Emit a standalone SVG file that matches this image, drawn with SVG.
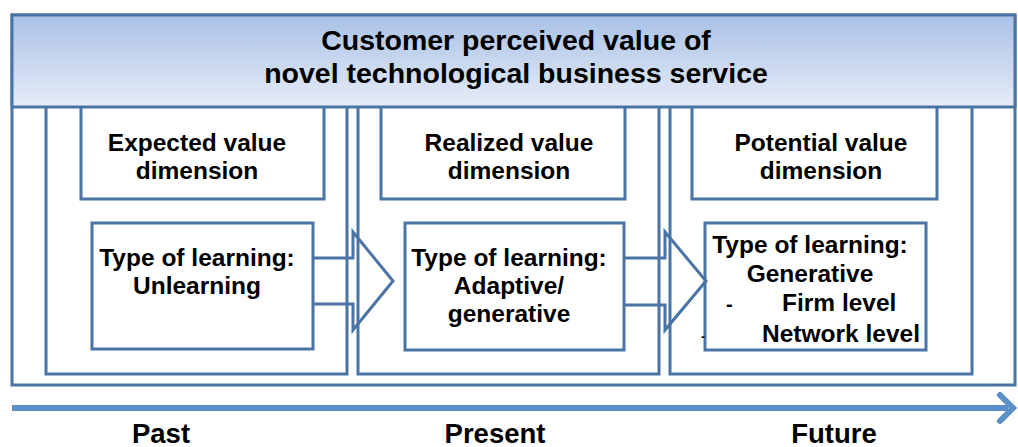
<svg xmlns="http://www.w3.org/2000/svg" width="1018" height="447" viewBox="0 0 1018 447">
<defs>
<linearGradient id="hdr" x1="0" y1="0" x2="0" y2="1">
<stop offset="0" stop-color="#a9c1e6"/>
<stop offset="1" stop-color="#e6ecf7"/>
</linearGradient>
</defs>
<style>
.box{fill:#fff;stroke:#4a74a3;stroke-width:3}
.frame{fill:none;stroke:#4a74a3;stroke-width:3}
.arr{fill:none;stroke:#4a74a3;stroke-width:3;stroke-linejoin:miter}
text{font-family:"Liberation Sans",Arial,sans-serif;font-weight:bold;fill:#000}
.h{font-size:28.5px;text-anchor:middle}
.t{font-size:24.5px;text-anchor:middle}
.tl{font-size:24.5px}
.time{font-size:27.5px;text-anchor:middle}
</style>
<g id="frame">
<rect x="12" y="15" width="1003" height="370" fill="#fff" stroke="#4a74a3" stroke-width="3"/>
<rect x="12" y="15" width="1003" height="92" fill="url(#hdr)" stroke="#4a74a3" stroke-width="3"/>
<text class="h" x="516" y="50">Customer perceived value of</text>
<text class="h" x="516" y="83">novel technological business service</text>
</g>
<g id="col-past">
<path class="frame" d="M46 107 V374 H347 V107"/>
<path class="frame" d="M81 107 V199 H324 V107"/>
<text class="t" x="197" y="151">Expected value</text>
<text class="t" x="197" y="179">dimension</text>
<rect class="box" x="92" y="223" width="221" height="126"/>
<text class="t" x="197" y="266">Type of learning:</text>
<text class="t" x="197" y="294">Unlearning</text>
</g>
<g id="col-present">
<path class="frame" d="M358 107 V374 H659 V107"/>
<path class="frame" d="M381 107 V199 H625 V107"/>
<text class="t" x="509" y="151">Realized value</text>
<text class="t" x="509" y="179">dimension</text>
<rect class="box" x="405" y="223" width="219" height="127"/>
<text class="t" x="509" y="266">Type of learning:</text>
<text class="t" x="509" y="294">Adaptive/</text>
<text class="t" x="509" y="322">generative</text>
</g>
<g id="col-future">
<path class="frame" d="M670 107 V374 H972 V107"/>
<path class="frame" d="M692 107 V199 H937 V107"/>
<text class="t" x="821" y="151">Potential value</text>
<text class="t" x="821" y="179">dimension</text>
<rect class="box" x="705" y="223" width="221" height="127"/>
<text class="t" x="810" y="253">Type of learning:</text>
<text class="t" x="810" y="282">Generative</text>
<text class="tl" x="726" y="311" style="font-size:20px">-</text>
<text class="tl" x="782" y="311">Firm level</text>
<text class="tl" x="701" y="341" style="font-size:12px">-</text>
<text class="tl" x="762" y="342">Network level</text>
</g>
<g id="connectors">
<path class="arr" d="M313 258 H353 V232 L393 281 L353 330 V304 H313"/>
<path class="arr" d="M624 258 H665 V232 L706 281 L665 330 V305 H624"/>
<line x1="12" y1="408" x2="1008" y2="408" stroke="#5b8fc8" stroke-width="6"/>
<path d="M1000 395 L1013 408 L1000 421" fill="none" stroke="#5b8fc8" stroke-width="6" stroke-linecap="round"/>
</g>
<g id="time-labels">
<text class="time" x="161" y="443">Past</text>
<text class="time" x="495" y="443">Present</text>
<text class="time" x="834" y="443">Future</text>
</g>
</svg>
